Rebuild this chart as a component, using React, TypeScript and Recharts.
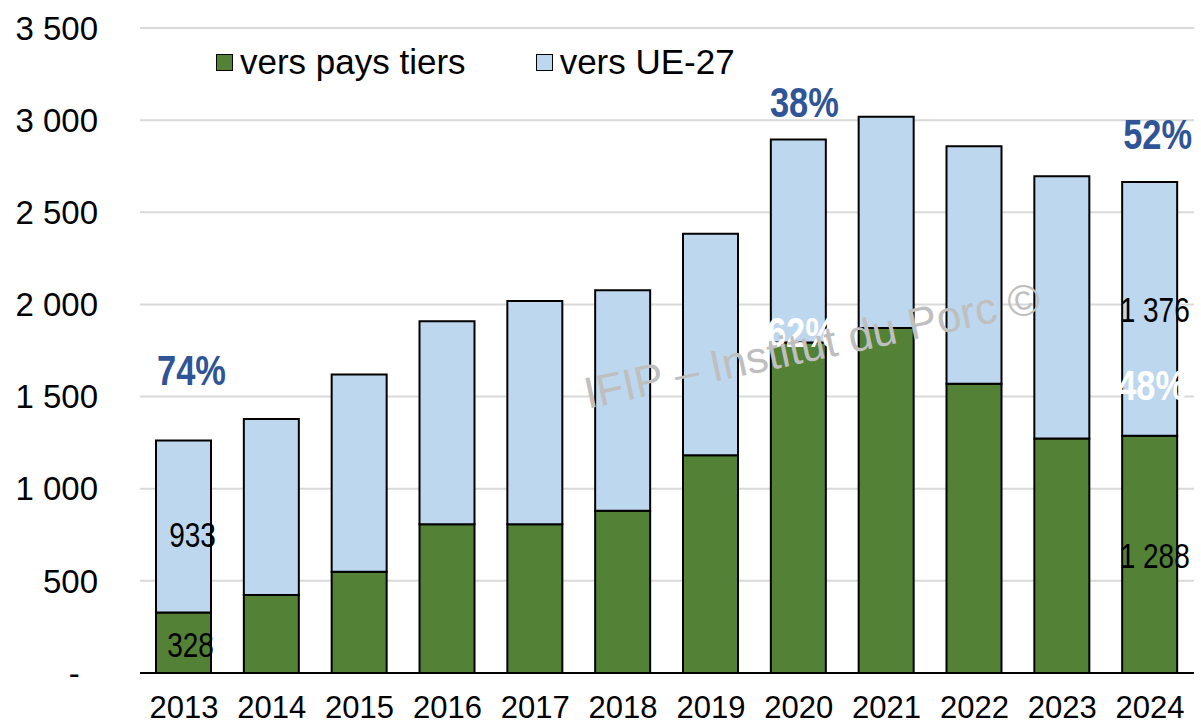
import React from 'react';
import { BarChart, Bar, XAxis, YAxis, CartesianGrid, Legend, LabelList } from 'recharts';

const years = ['2013', '2014', '2015', '2016', '2017', '2018', '2019', '2020', '2021', '2022', '2023', '2024'];
const paysTiers = [328, 423, 549, 807, 807, 881, 1181, 1793, 1872, 1569, 1273, 1288];
const ue27 = [933, 955, 1071, 1102, 1211, 1196, 1203, 1102, 1146, 1289, 1423, 1376];
const yTicks = [0, 500, 1000, 1500, 2000, 2500, 3000, 3500];
const seriesNames = ['vers pays tiers', 'vers UE-27'];

// years that show the tonnage and the share labels
const valueLabelYears = ['2013', '2024'];
const ueShareYears = ['2013', '2020', '2024'];
const tiersShareYears = ['2020', '2024'];

const data = years.map((year, i) => ({ year, tiers: paysTiers[i], ue: ue27[i] }));

const GREEN = '#538135';
const BLUE = '#bdd7ee';
const PCT_BLUE = '#2f5597';
const FONT = "'Liberation Sans', Arial, sans-serif";

// label placement tweaks (px), keyed by year
const ueShareOffset: Record<string, [number, number]> = { '2013': [8, -71], '2020': [6, -38], '2024': [8, -48] };
const tiersShareOffset: Record<string, [number, number]> = { '2020': [3, -11], '2024': [2, -51] };
const valueOffset: Record<string, [number, number]> = { '2013': [7, 2], '2024': [5, 1] };
const ueValueOffset: Record<string, [number, number]> = { '2013': [9, 8], '2024': [5, 1] };

const fmt = (v: number) => String(v).replace(/\B(?=(\d{3})+(?!\d))/g, ' ');
const pct = (a: number, b: number) => `${Math.round((a / (a + b)) * 100)}%`;

// no narrow font installed, so squeeze Liberation Sans horizontally
const NarrowText = ({ cx, cy, size, squeeze = 0.8, bold, fill, children }: any) => (
  <text
    transform={`translate(${cx} ${cy + size * 0.358}) scale(${squeeze} 1)`}
    textAnchor="middle"
    fontFamily={FONT}
    fontSize={size}
    fontWeight={bold ? 'bold' : 'normal'}
    fill={fill}
  >
    {children}
  </text>
);

const TiersLabels = (props: any) => {
  const { x, y, width, height, index } = props;
  const year = years[index];
  const cx = x + width / 2;
  const out: React.ReactNode[] = [];
  if (valueLabelYears.includes(year)) {
    const [dx, dy] = valueOffset[year];
    out.push(
      <NarrowText key="v" cx={cx + dx} cy={y + height / 2 + dy} size={35} fill="#000">
        {fmt(paysTiers[index])}
      </NarrowText>
    );
  }
  if (tiersShareYears.includes(year)) {
    const [dx, dy] = tiersShareOffset[year];
    out.push(
      <NarrowText key="p" cx={cx + dx} cy={y + dy} size={42} squeeze={0.82} bold fill="#fff">
        {pct(paysTiers[index], ue27[index])}
      </NarrowText>
    );
  }
  return <g>{out}</g>;
};

const UeLabels = (props: any) => {
  const { x, y, width, height, index } = props;
  const year = years[index];
  const cx = x + width / 2;
  const out: React.ReactNode[] = [];
  if (valueLabelYears.includes(year)) {
    const [dx, dy] = ueValueOffset[year];
    out.push(
      <NarrowText key="v" cx={cx + dx} cy={y + height / 2 + dy} size={35} fill="#000">
        {fmt(ue27[index])}
      </NarrowText>
    );
  }
  if (ueShareYears.includes(year)) {
    const [dx, dy] = ueShareOffset[year];
    out.push(
      <NarrowText key="p" cx={cx + dx} cy={y + dy} size={42} squeeze={0.82} bold fill={PCT_BLUE}>
        {pct(ue27[index], paysTiers[index])}
      </NarrowText>
    );
  }
  return <g>{out}</g>;
};

const renderLegend = () => (
  <div style={{ display: 'flex', alignItems: 'center', fontFamily: FONT, fontSize: 35, lineHeight: '36px', color: '#000', whiteSpace: 'nowrap' }}>
    {seriesNames.map((name, i) => (
      <div key={name} style={{ display: 'flex', alignItems: 'center', marginRight: i === 0 ? 70 : 0 }}>
        <span
          style={{
            display: 'inline-block',
            width: 15,
            height: 15,
            border: '1.5px solid #000',
            background: i === 0 ? GREEN : BLUE,
            marginRight: 7,
          }}
        />
        <span>{name}</span>
      </div>
    ))}
  </div>
);

const App: React.FC = () => {
  return (
    <div style={{ position: 'absolute', left: 0, top: 0, width: 1201, height: 725, background: '#fff' }}>
      <BarChart width={1201} height={725} data={data} margin={{ top: 28, right: 7, left: 0, bottom: 0 }} barSize={55}>
        <CartesianGrid vertical={false} stroke="#d9d9d9" strokeWidth={2} />
        <XAxis
          dataKey="year"
          height={52}
          tickSize={0}
          tickMargin={23}
          axisLine={{ stroke: '#000', strokeWidth: 2 }}
          tick={{ fill: '#000', fontSize: 31, fontFamily: FONT }}
          interval={0}
        />
        <YAxis
          width={140}
          domain={[0, 3500]}
          ticks={yTicks}
          axisLine={false}
          tickSize={0}
          tickMargin={42}
          tick={{ fill: '#000', fontSize: 33, fontFamily: FONT }}
          tickFormatter={(v: number) => (v === 0 ? '-\u00A0\u00A0' : fmt(v))}
        />
        <Legend
          layout="vertical"
          align="center"
          verticalAlign="middle"
          content={renderLegend}
          wrapperStyle={{ top: 44, left: 216, width: 'auto' }}
        />
        <Bar dataKey="tiers" name={seriesNames[0]} stackId="a" fill={GREEN} stroke="#000" strokeWidth={2} isAnimationActive={false}>
          <LabelList dataKey="tiers" content={TiersLabels} />
        </Bar>
        <Bar dataKey="ue" name={seriesNames[1]} stackId="a" fill={BLUE} stroke="#000" strokeWidth={2} isAnimationActive={false}>
          <LabelList dataKey="ue" content={UeLabels} />
        </Bar>
      </BarChart>
      <svg width={1201} height={725} style={{ position: 'absolute', left: 0, top: 0, pointerEvents: 'none' }}>
        <text
          x={812}
          y={345 + 44 * 0.358}
          textAnchor="middle"
          fontFamily={FONT}
          fontSize={44}
          fill="#bfbfbf"
          textLength={465}
          lengthAdjust="spacingAndGlyphs"
          transform="rotate(-12 812 345)"
        >
          IFIP – Institut du Porc ©
        </text>
      </svg>
    </div>
  );
};

export default App;
